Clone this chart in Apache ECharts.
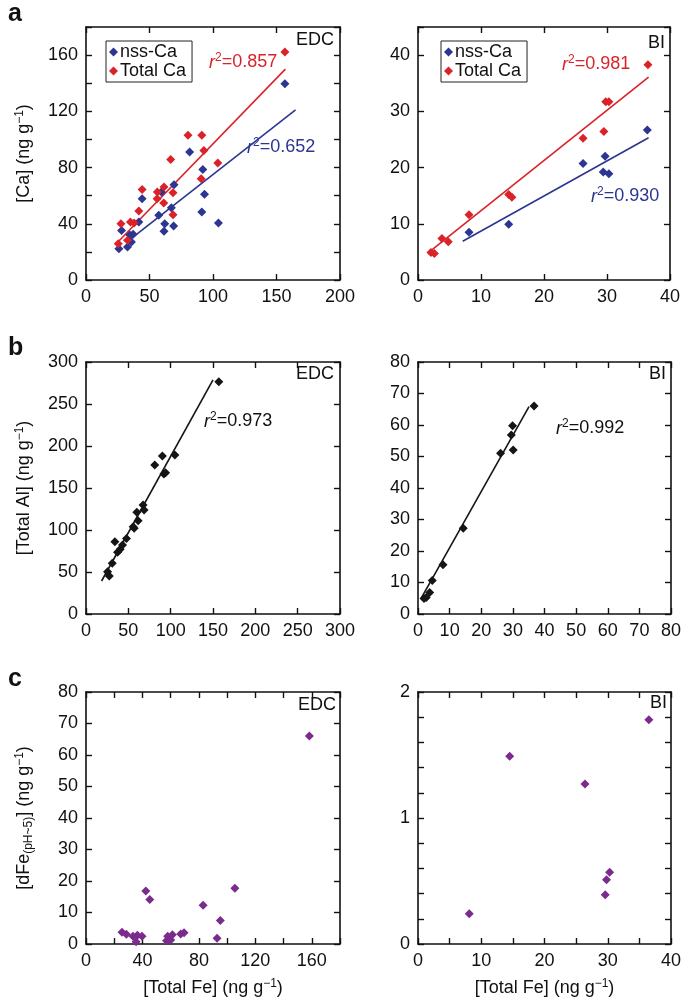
<!DOCTYPE html>
<html>
<head>
<meta charset="utf-8">
<script src="https://cdn.jsdelivr.net/npm/echarts@6/dist/echarts.min.js"></script>
<style>
html, body { margin: 0; padding: 0; background: #fff; }
#chart { width: 685px; height: 1007px; }
</style>
</head>
<body>
<div id="chart"></div>
<script>
// panel a: Ca vs total Fe
var edcNssCa = [[25.9,22.3],[28,35.3],[32.7,23.5],[34.5,32],[35.8,27],[37.1,32.5],[41.6,41.3],[44.2,57.8],[57.3,46],[59.4,62.6],[61.4,34.6],[62,40],[67.2,51.4],[69,38.4],[69.3,67.8],[81.6,91],[91.2,48.4],[92,78.7],[93.3,61],[104.3,40.6],[156.6,139.7]];
var edcTotalCa = [[25.4,25.8],[27.5,40],[32.7,28.2],[35,41.3],[37.9,40.6],[41.6,49.1],[44.2,64.3],[56,57.8],[56.2,62.6],[61.2,54.8],[61.4,66.2],[66.7,85.8],[68.5,62.1],[68.5,46.5],[80.3,103],[90.7,72],[91.2,103],[92.8,92.2],[103.8,83.2],[156.6,162.2]];
var edcNssCaFit = [[32,27],[165,121]];
var edcTotalCaFit = [[24,26],[157,150]];

var biNssCa = [[8.1,8.5],[14.4,9.9],[26.2,20.7],[29.4,19.2],[29.7,22],[30.3,18.9],[36.4,26.7]];
var biTotalCa = [[2.05,4.9],[2.6,4.7],[3.8,7.4],[4.8,6.8],[8.1,11.6],[14.4,15.2],[14.9,14.7],[26.2,25.2],[29.5,26.4],[29.8,31.7],[30.3,31.7],[36.5,38.3]];
var biNssCaFit = [[7.1,6.9],[36.6,25.3]];
var biTotalCaFit = [[1.8,5],[36.6,36.1]];

// panel b: total Al vs total Fe
var edcAl = [[25.5,50.4],[27.5,45.2],[31,60.3],[34.1,86],[37.3,73.4],[40.4,77],[43.1,82.1],[47.8,90],[55.7,104],[56.9,102],[60,121],[61.6,111],[67.4,129.8],[68.6,123.8],[81.2,177.4],[90.2,188.1],[92,166.7],[94,168.2],[105,189.3],[156.9,276.5]];
var edcAlFit = [[18.4,39.3],[150,278.6]];
var biAl = [[1.9,4.9],[2.6,5.2],[3.7,6.8],[4.5,10.6],[7.9,15.6],[14.3,27.2],[26.1,51],[29.5,56.8],[29.9,59.8],[30.1,52.1],[36.7,66]];
var biAlFit = [[0.85,4.7],[35.1,65.8]];

// panel c: dFe(pH~5) vs total Fe
var edcDFe = [[25.5,3.7],[28.6,3.1],[33.3,2.5],[35.5,0.7],[36.4,2.8],[39.7,2.5],[42.4,16.8],[45.2,14.1],[57.1,1.0],[57.9,2.5],[60,1.3],[61.2,2.9],[67.1,3.2],[69.5,3.6],[83,12.3],[92.9,1.8],[95.2,7.5],[105.5,17.7],[158.3,66]];
var biDFe = [[8.1,0.24],[14.5,1.49],[26.4,1.27],[29.6,0.39],[29.8,0.51],[30.3,0.57],[36.5,1.78]];

var FONT = 'Liberation Sans, Arial, Helvetica, sans-serif';
var FS = 18;
var BLUE = '#2c3591';
var RED = '#da2229';
var PURPLE = '#7a2b8c';
var BLACK = '#151515';

var richUnits = {
	n: { fontSize: FS, fontFamily: FONT, color: '#111' },
	s: { fontSize: 12, fontFamily: FONT, color: '#111', padding: [0, 0, 9, 0] },
	b: { fontSize: 12, fontFamily: FONT, color: '#111', padding: [9, 0, 0, 0] }
};

var grids = [];
var xAxes = [];
var yAxes = [];

function labelFmt(step) {
	return function(v) {
		var k = v / step;
		if(Math.abs(k - Math.round(k)) < 1e-6) {
			return String(Math.round(v * 1000) / 1000);
		}
		return '';
	};
}

function makeAxis(gi, r, pos, withLabels, name, gap) {
	var ax = {
		type: 'value',
		gridIndex: gi,
		position: pos,
		min: r[0],
		max: r[1],
		interval: r[2],
		axisLine: { show: true, onZero: false, lineStyle: { color: '#111', width: 1.6 } },
		axisTick: { show: true, inside: true, length: 6, lineStyle: { color: '#111', width: 1.4 } },
		splitLine: { show: false },
		axisLabel: {
			show: withLabels,
			margin: 8,
			fontSize: FS,
			color: '#111',
			fontFamily: FONT,
			formatter: labelFmt(r[3])
		}
	};
	if(name) {
		ax.name = name;
		ax.nameLocation = 'middle';
		ax.nameGap = gap;
		ax.nameTextStyle = { fontSize: FS, fontFamily: FONT, color: '#111', rich: richUnits };
		if(pos == 'left') {
			ax.nameRotate = 90;
		}
	}
	return ax;
}

function addPanel(g, xr, yr, xName, yName) {
	grids.push(g);
	var gi = grids.length - 1;
	xAxes.push(makeAxis(gi, xr, 'bottom', true, xName, 34));
	xAxes.push(makeAxis(gi, xr, 'top', false));
	yAxes.push(makeAxis(gi, yr, 'left', true, yName, 51));
	yAxes.push(makeAxis(gi, yr, 'right', false));
	return gi;
}

var feName = '{n|[Total Fe] (ng g}{s|−1}{n|)}';
var pA1 = addPanel({left: 86, top: 27, width: 254, height: 253}, [0, 200, 50, 50], [0, 180, 20, 40], null, '{n|[Ca] (ng g}{s|−1}{n|)}');
var pA2 = addPanel({left: 418, top: 27, width: 252, height: 253}, [0, 40, 10, 10], [0, 45, 10, 10], null, null);
var pB1 = addPanel({left: 86, top: 362, width: 254, height: 252}, [0, 300, 50, 50], [0, 300, 50, 50], null, '{n|[Total Al] (ng g}{s|−1}{n|)}');
var pB2 = addPanel({left: 418, top: 362, width: 253, height: 252}, [0, 80, 10, 10], [0, 80, 10, 10], null, null);
var pC1 = addPanel({left: 86, top: 692, width: 254, height: 252}, [0, 180, 20, 40], [0, 80, 10, 10], feName, '{n|[dFe}{b|(pH~5)}{n|] (ng g}{s|−1}{n|)}');
var pC2 = addPanel({left: 418, top: 692, width: 253, height: 252}, [0, 40, 5, 10], [0, 2, 0.2, 1], feName, null);

function scatter(name, gi, data, color) {
	return {
		name: name,
		type: 'scatter',
		xAxisIndex: gi * 2,
		yAxisIndex: gi * 2,
		symbol: 'diamond',
		symbolSize: 9,
		itemStyle: { color: color, opacity: 1 },
		data: data,
		z: 3
	};
}

function fit(name, gi, data, color) {
	return {
		name: name,
		type: 'line',
		xAxisIndex: gi * 2,
		yAxisIndex: gi * 2,
		showSymbol: false,
		silent: true,
		lineStyle: { color: color, width: 1.6 },
		data: data,
		z: 2
	};
}

function label(x, y, txt, color) {
	var st = {
		text: txt,
		fill: color || '#111',
		font: FS + 'px ' + FONT,
		rich: {
			i: { fontSize: FS, fontStyle: 'italic', fontFamily: FONT, fill: color },
			s: { fontSize: 12, fontFamily: FONT, fill: color, padding: [0, 0, 9, 0] },
			n: { fontSize: FS, fontFamily: FONT, fill: color }
		}
	};
	return { type: 'text', left: x, top: y, style: st, z: 10 };
}

function legendBox(x, y) {
	return {
		left: x,
		top: y,
		orient: 'vertical',
		data: ['nss-Ca', 'Total Ca'],
		icon: 'diamond',
		itemWidth: 9,
		itemHeight: 9,
		itemGap: 1,
		padding: [2, 6, 2, 3],
		borderColor: '#222',
		borderWidth: 1,
		selectedMode: false,
		textStyle: { fontSize: FS, fontFamily: FONT, color: '#111', padding: [0, 0, 0, -3] }
	};
}

var ech = echarts.init(document.getElementById('chart'), null, { renderer: 'canvas' });
var option = {
	backgroundColor: '#fff',
	animation: false,
	grid: grids,
	xAxis: xAxes,
	yAxis: yAxes,
	legend: [legendBox(106, 41), legendBox(441, 41)],
	graphic: [
		label(8, 2, 'a', '#111'),
		label(8, 336, 'b', '#111'),
		label(8, 667, 'c', '#111'),
		label(296, 31, 'EDC', '#111'),
		label(209, 52, '{i|r}{s|2}{n|=0.857}', RED),
		label(247, 137, '{i|r}{s|2}{n|=0.652}', BLUE),
		label(648, 34, 'BI', '#111'),
		label(562, 54, '{i|r}{s|2}{n|=0.981}', RED),
		label(591, 186, '{i|r}{s|2}{n|=0.930}', BLUE),
		label(296, 365, 'EDC', '#111'),
		label(204, 411, '{i|r}{s|2}{n|=0.973}', '#111'),
		label(649, 365, 'BI', '#111'),
		label(556, 418, '{i|r}{s|2}{n|=0.992}', '#111'),
		label(298, 696, 'EDC', '#111'),
		label(650, 694, 'BI', '#111')
	],
	series: [
		fit('edcTotalFit', pA1, edcTotalCaFit, RED),
		fit('edcNssFit', pA1, edcNssCaFit, BLUE),
		scatter('nss-Ca', pA1, edcNssCa, BLUE),
		scatter('Total Ca', pA1, edcTotalCa, RED),
		fit('biTotalFit', pA2, biTotalCaFit, RED),
		fit('biNssFit', pA2, biNssCaFit, BLUE),
		scatter('nss-Ca', pA2, biNssCa, BLUE),
		scatter('Total Ca', pA2, biTotalCa, RED),
		fit('edcAlFit', pB1, edcAlFit, BLACK),
		scatter('edcAl', pB1, edcAl, BLACK),
		fit('biAlFit', pB2, biAlFit, BLACK),
		scatter('biAl', pB2, biAl, BLACK),
		scatter('edcDFe', pC1, edcDFe, PURPLE),
		scatter('biDFe', pC2, biDFe, PURPLE)
	]
};
// panel letters are bold and larger
option.graphic[0].style.font = 'bold 25px ' + FONT;
option.graphic[1].style.font = 'bold 25px ' + FONT;
option.graphic[2].style.font = 'bold 25px ' + FONT;
ech.setOption(option);
</script>
</body>
</html>
